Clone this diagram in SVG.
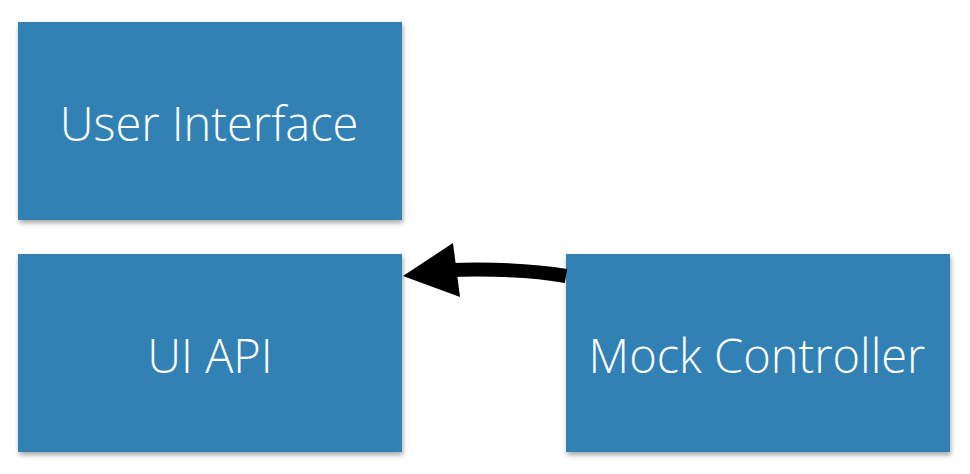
<svg xmlns="http://www.w3.org/2000/svg" width="970" height="474" viewBox="0 0 970 474">
<defs>
<style>
.box{fill:#3181b5;filter:url(#sh)}
.lbl{fill:#fff;font-family:"Open Sans","Liberation Sans",sans-serif;font-weight:300;font-size:47px;text-anchor:middle}
</style>
<filter id="sh" x="-10%" y="-10%" width="120%" height="130%">
<feDropShadow dx="1" dy="3" stdDeviation="2.5" flood-color="#000" flood-opacity="0.35"/>
</filter>
</defs>
<rect width="970" height="474" fill="#fff"/>
<g id="user-interface">
<rect class="box" x="18" y="22" width="384" height="198"/>
<text class="lbl" x="209" y="141">User Interface</text>
</g>
<g id="ui-api">
<rect class="box" x="18" y="254" width="384" height="198"/>
<text class="lbl" x="210" y="373">UI API</text>
</g>
<g id="mock-controller">
<rect class="box" x="566" y="254" width="384" height="198"/>
<text class="lbl" x="757" y="373">Mock Controller</text>
</g>
<g id="connectors">
<path d="M566,276 Q520,268 450,270" fill="none" stroke="#000" stroke-width="14"/>
<polygon points="403,276 453,243 460,297" fill="#000"/>
</g>
</svg>
